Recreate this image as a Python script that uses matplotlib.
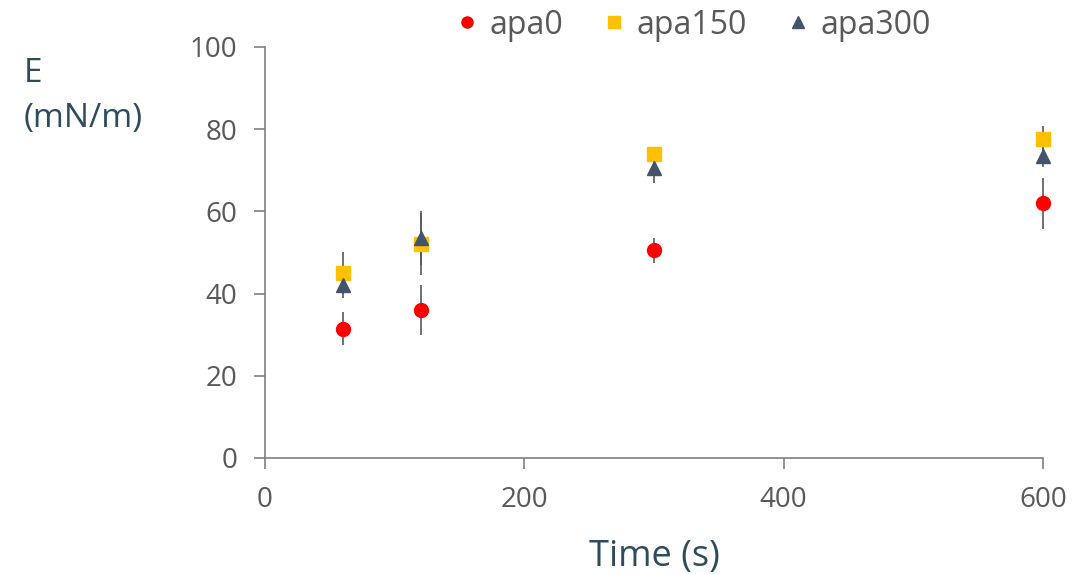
import matplotlib
matplotlib.use('Agg')
import matplotlib.pyplot as plt
from matplotlib.lines import Line2D

# data
time_s = [60, 120, 300, 600]

apa0 = [31.5, 36.0, 50.5, 62.0]
apa0_err = [4.0, 6.0, 3.0, 6.2]

apa150 = [45.0, 52.0, 74.0, 77.5]
apa150_err = [5.0, 7.5, 0.0, 3.3]

apa300 = [42.0, 53.5, 70.5, 73.5]
apa300_err = [3.0, 6.5, 3.5, 2.7]

series = [
    ('apa0', apa0, apa0_err, 'o', '#FF0000'),
    ('apa150', apa150, apa150_err, 's', '#FFC000'),
    ('apa300', apa300, apa300_err, '^', '#44546A'),
]

plt.rcParams['font.family'] = ['Open Sans', 'DejaVu Sans']

fig = plt.figure(figsize=(10.91, 5.74), dpi=100)
ax = fig.add_axes([0.2429, 0.2021, 0.7131, 0.7161])

handles = []
for name, vals, errs, mk, col in series:
    eb = ax.errorbar(time_s, vals, yerr=errs, fmt=mk, color=col, ecolor='#595959',
                     elinewidth=1.2, capsize=0, markersize=10, zorder=3)
    eb[0].set_clip_on(False)
    for c in eb[2]:
        c.set_clip_on(False)
    handles.append(Line2D([], [], ls='none', marker=mk, color=col,
                          markersize=8, label=name))

ax.set_xlim(0, 600)
ax.set_ylim(0, 100)
ax.set_xticks([0, 200, 400, 600])
ax.set_yticks([0, 20, 40, 60, 80, 100])

for s in ['top', 'right']:
    ax.spines[s].set_visible(False)
for s in ['left', 'bottom']:
    ax.spines[s].set_color('#808080')
    ax.spines[s].set_linewidth(1.2)
ax.tick_params(direction='out', length=8, width=1.2, color='#808080',
               labelcolor='#595959', labelsize=20, pad=12)

ax.set_xlabel('Time (s)', fontsize=26, color='#2F4B5E', labelpad=18)
fig.text(0.022, 0.9, 'E\n(mN/m)', fontsize=24, color='#2F4B5E',
         ha='left', va='top', linespacing=1.45)

fig.legend(handles=handles, loc='upper center', bbox_to_anchor=(0.632, 1.035), ncol=3,
           frameon=False, fontsize=23, labelcolor='#595959', handletextpad=0.1,
           handlelength=1.2, columnspacing=1.0)

fig.savefig('out.png', dpi=100)
